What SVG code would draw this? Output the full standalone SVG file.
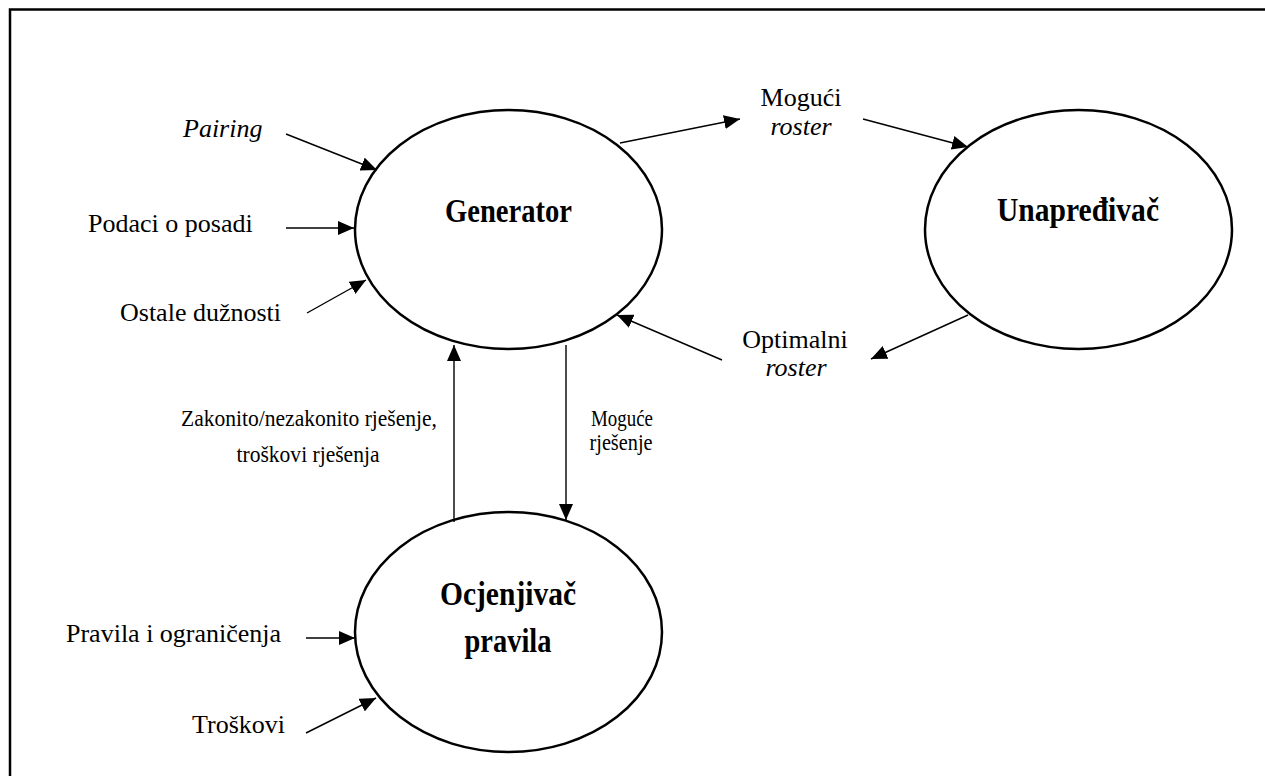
<svg xmlns="http://www.w3.org/2000/svg" width="1265" height="776" viewBox="0 0 1265 776">
<defs>
<marker id="arr" viewBox="0 0 16 14" refX="16" refY="7" markerWidth="16" markerHeight="14" markerUnits="userSpaceOnUse" orient="auto">
<path d="M0,0 L16,7 L0,14 z" fill="#000"/>
</marker>
<style>
.node ellipse{fill:#fff;stroke:#000;stroke-width:2.5}
.t{font-family:"Liberation Serif","Times New Roman",serif;fill:#000}
.lbl{font-size:26px}
.sm{font-size:23px}
.b{font-size:34px;font-weight:bold;text-anchor:middle}
.it{font-style:italic}
.mid{text-anchor:middle}
#connectors line{stroke:#000;stroke-width:1.4;marker-end:url(#arr)}
</style>
</defs>
<rect x="0" y="0" width="1265" height="776" fill="#fff"/>
<rect x="10" y="9.5" width="1400" height="900" fill="none" stroke="#000" stroke-width="2.5"/>

<g id="generator" class="node">
<ellipse cx="508.5" cy="229.5" rx="153.5" ry="119.5"/>
<text class="t b" x="508.5" y="222" textLength="127" lengthAdjust="spacingAndGlyphs">Generator</text>
</g>
<g id="unapredivac" class="node">
<ellipse cx="1078.5" cy="229.5" rx="153.5" ry="119.5"/>
<text class="t b" x="1078" y="221" textLength="162" lengthAdjust="spacingAndGlyphs">Unapređivač</text>
</g>
<g id="ocjenjivac" class="node">
<ellipse cx="508.5" cy="632" rx="153.5" ry="120"/>
<text class="t b" x="508" y="605" textLength="136" lengthAdjust="spacingAndGlyphs">Ocjenjivač</text>
<text class="t b" x="508" y="652" textLength="87" lengthAdjust="spacingAndGlyphs">pravila</text>
</g>

<g id="connectors">
<line x1="286" y1="134" x2="377" y2="170"/>
<line x1="286" y1="228" x2="354" y2="228"/>
<line x1="307" y1="313" x2="366" y2="280"/>
<line x1="620" y1="143" x2="740" y2="119"/>
<line x1="863" y1="119" x2="968" y2="147"/>
<line x1="968" y1="315" x2="871" y2="359"/>
<line x1="722" y1="360" x2="617" y2="315"/>
<line x1="454" y1="522" x2="454" y2="345"/>
<line x1="566" y1="345" x2="566" y2="520"/>
<line x1="306" y1="638" x2="355" y2="638"/>
<line x1="306" y1="733" x2="376" y2="698"/>
</g>

<g id="labels">
<text class="t lbl it" x="183" y="137">Pairing</text>
<text class="t lbl" x="88" y="232">Podaci o posadi</text>
<text class="t lbl" x="120" y="321">Ostale dužnosti</text>
<text class="t lbl mid" x="801" y="106">Mogući</text>
<text class="t lbl mid it" x="801" y="135">roster</text>
<text class="t lbl mid" x="795" y="348">Optimalni</text>
<text class="t lbl mid it" x="796" y="376">roster</text>
<text class="t sm mid" x="309" y="426" textLength="256" lengthAdjust="spacingAndGlyphs">Zakonito/nezakonito rješenje,</text>
<text class="t sm mid" x="308" y="462" textLength="143" lengthAdjust="spacingAndGlyphs">troškovi rješenja</text>
<text class="t sm mid" x="622" y="426" textLength="62" lengthAdjust="spacingAndGlyphs">Moguće</text>
<text class="t sm mid" x="621" y="450" textLength="63" lengthAdjust="spacingAndGlyphs">rješenje</text>
<text class="t lbl" x="66" y="642">Pravila i ograničenja</text>
<text class="t lbl" x="192" y="733">Troškovi</text>
</g>
</svg>
